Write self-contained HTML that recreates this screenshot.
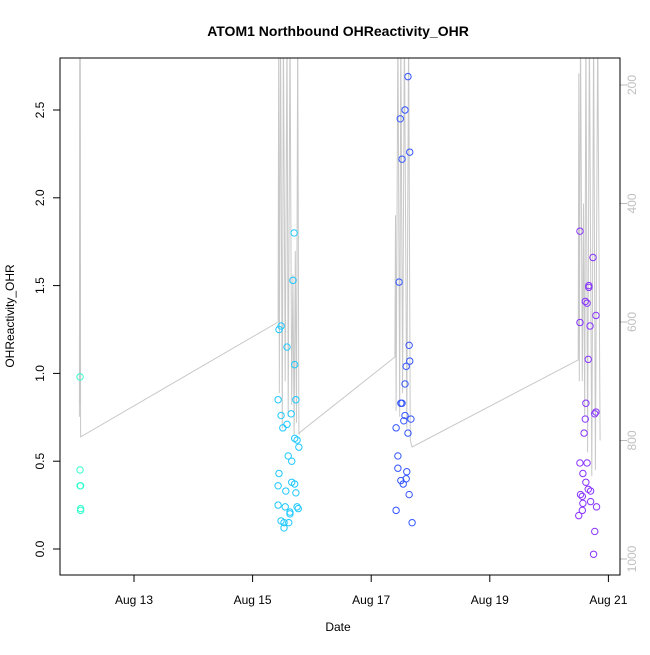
<!DOCTYPE html>
<html><head><meta charset="utf-8"><style>
body{margin:0;background:#fff}
svg text{font-family:"Liberation Sans",sans-serif}
</style></head><body>
<svg id="c" width="650" height="650" xmlns="http://www.w3.org/2000/svg">
<rect width="650" height="650" fill="#fff"/>
<text x="338" y="36" text-anchor="middle" font-size="14" font-weight="bold">ATOM1 Northbound OHReactivity_OHR</text>
<text x="338" y="631" text-anchor="middle" font-size="12">Date</text>
<text transform="translate(14,316) rotate(-90)" text-anchor="middle" font-size="12">OHReactivity_OHR</text>
<g id="grey"></g>
<g id="pts"></g>
<g id="axes"></g>
<rect x="60" y="58" width="560" height="517" fill="none" stroke="#000"/>
</svg>
<script>
const xTicks=[13,15,17,19,21];
const xTickLabels=["Aug 13","Aug 15","Aug 17","Aug 19","Aug 21"];
const yTicks=[0,0.5,1,1.5,2,2.5];
const yTickLabels=["0.0","0.5","1.0","1.5","2.0","2.5"];
const y2Ticks=[200,400,600,800,1000];
const g1T=[12.09,12.09,12.09,12.10,12.10,12.10];
const g1V=[0.98,0.45,0.36,0.36,0.23,0.22];
const g2T=[15.48,15.445,15.58,15.70,15.68,15.71,15.43,15.73,15.48,15.65,15.58,15.51,15.71,15.75,15.78,15.60,15.66,15.445,15.66,15.71,15.43,15.56,15.73,15.43,15.55,15.75,15.77,15.63,15.63,15.48,15.53,15.61,15.53];
const g2V=[1.27,1.25,1.15,1.80,1.53,1.05,0.85,0.85,0.76,0.77,0.71,0.69,0.63,0.62,0.58,0.53,0.50,0.43,0.38,0.37,0.36,0.33,0.32,0.25,0.24,0.24,0.23,0.21,0.20,0.16,0.15,0.15,0.12];
const g3T=[17.62,17.57,17.49,17.65,17.52,17.47,17.64,17.65,17.59,17.57,17.50,17.52,17.57,17.55,17.67,17.42,17.62,17.45,17.45,17.60,17.50,17.54,17.59,17.64,17.42,17.69];
const g3V=[2.69,2.50,2.45,2.26,2.22,1.52,1.16,1.07,1.04,0.94,0.83,0.83,0.76,0.73,0.74,0.69,0.66,0.53,0.46,0.44,0.39,0.37,0.40,0.31,0.22,0.15];
const g4T=[20.52,20.74,20.67,20.67,20.61,20.64,20.79,20.52,20.69,20.66,20.62,20.79,20.77,20.61,20.59,20.52,20.64,20.57,20.62,20.66,20.70,20.53,20.56,20.57,20.80,20.70,20.56,20.50,20.77,20.75];
const g4V=[1.81,1.66,1.50,1.49,1.41,1.40,1.33,1.29,1.27,1.08,0.83,0.78,0.77,0.74,0.66,0.49,0.49,0.43,0.38,0.34,0.33,0.31,0.30,0.26,0.24,0.27,0.22,0.19,0.10,-0.03];
const greyT=[12.08,12.085,12.09,12.095,12.10,15.43,15.44,15.45,15.47,15.50,15.52,15.55,15.58,15.60,15.63,15.66,15.68,15.70,15.72,15.74,15.76,15.78,15.80,17.40,17.41,17.42,17.45,17.48,17.50,17.53,17.56,17.60,17.63,17.66,17.69,20.49,20.50,20.51,20.53,20.56,20.58,20.60,20.62,20.65,20.68,20.72,20.75,20.78,20.82,20.86];
const greyV=[760,100,740,100,794,600,100,720,100,780,100,700,100,760,100,740,520,790,480,770,100,790,786,659,420,750,100,760,100,720,100,780,100,800,811,664,180,700,100,700,400,760,100,820,100,860,100,850,100,800];
const NS="http://www.w3.org/2000/svg";
const X=d=>134+(d-13)*59.3;
const Y=v=>549-v*175.6;
const Y2=v=>85+(v-200)*118.5/200;
const svg=document.getElementById('c');
function mk(t,a,p){const e=document.createElementNS(NS,t);for(const k in a)e.setAttribute(k,a[k]);p.appendChild(e);return e;}
// clip
const defs=mk('defs',{},svg);const cp=mk('clipPath',{id:'pc'},defs);mk('rect',{x:60,y:58,width:560,height:517},cp);
const gg=document.getElementById('grey');gg.setAttribute('clip-path','url(#pc)');
let dstr=greyT.map((t,i)=>(i?'L':'M')+X(t).toFixed(1)+' '+Y2(greyV[i]).toFixed(1)).join(' ');
const pl=mk('path',{d:dstr,fill:'none',stroke:'#c8c8c8','stroke-width':1},gg);


const pg=document.getElementById('pts');
[[g1T,g1V,'#33ffcc','group1'],[g2T,g2V,'#1ec8ff','group2'],[g3T,g3V,'#3355ff','group3'],[g4T,g4V,'#8833ff','group4']].forEach(([T,V,c,n])=>{
T.forEach((t,i)=>{const e=mk('circle',{cx:X(t),cy:Y(V[i]),r:3.2,fill:'none',stroke:c,'stroke-width':1},pg);

});});
const ax=document.getElementById('axes');
mk('line',{x1:X(13),x2:X(21),y1:575,y2:575,stroke:'#000'},ax);
xTicks.forEach((d,i)=>{mk('line',{x1:X(d),x2:X(d),y1:575,y2:582,stroke:'#000'},ax);
const t=mk('text',{x:X(d),y:604,'text-anchor':'middle','font-size':12},ax);t.textContent=xTickLabels[i];

});
yTicks.forEach((v,i)=>{mk('line',{x1:53,x2:60,y1:Y(v),y2:Y(v),stroke:'#000'},ax);
const t=mk('text',{transform:`translate(44,${Y(v)}) rotate(-90)`,'text-anchor':'middle','font-size':12},ax);t.textContent=yTickLabels[i];

});
y2Ticks.forEach(v=>{mk('line',{x1:620,x2:627,y1:Y2(v),y2:Y2(v),stroke:'#bbb'},ax);
const t=mk('text',{transform:`translate(636,${Y2(v)}) rotate(-90)`,'text-anchor':'middle','font-size':12,fill:'#c0c0c0'},ax);t.textContent=v;

});
</script>
</body></html>
